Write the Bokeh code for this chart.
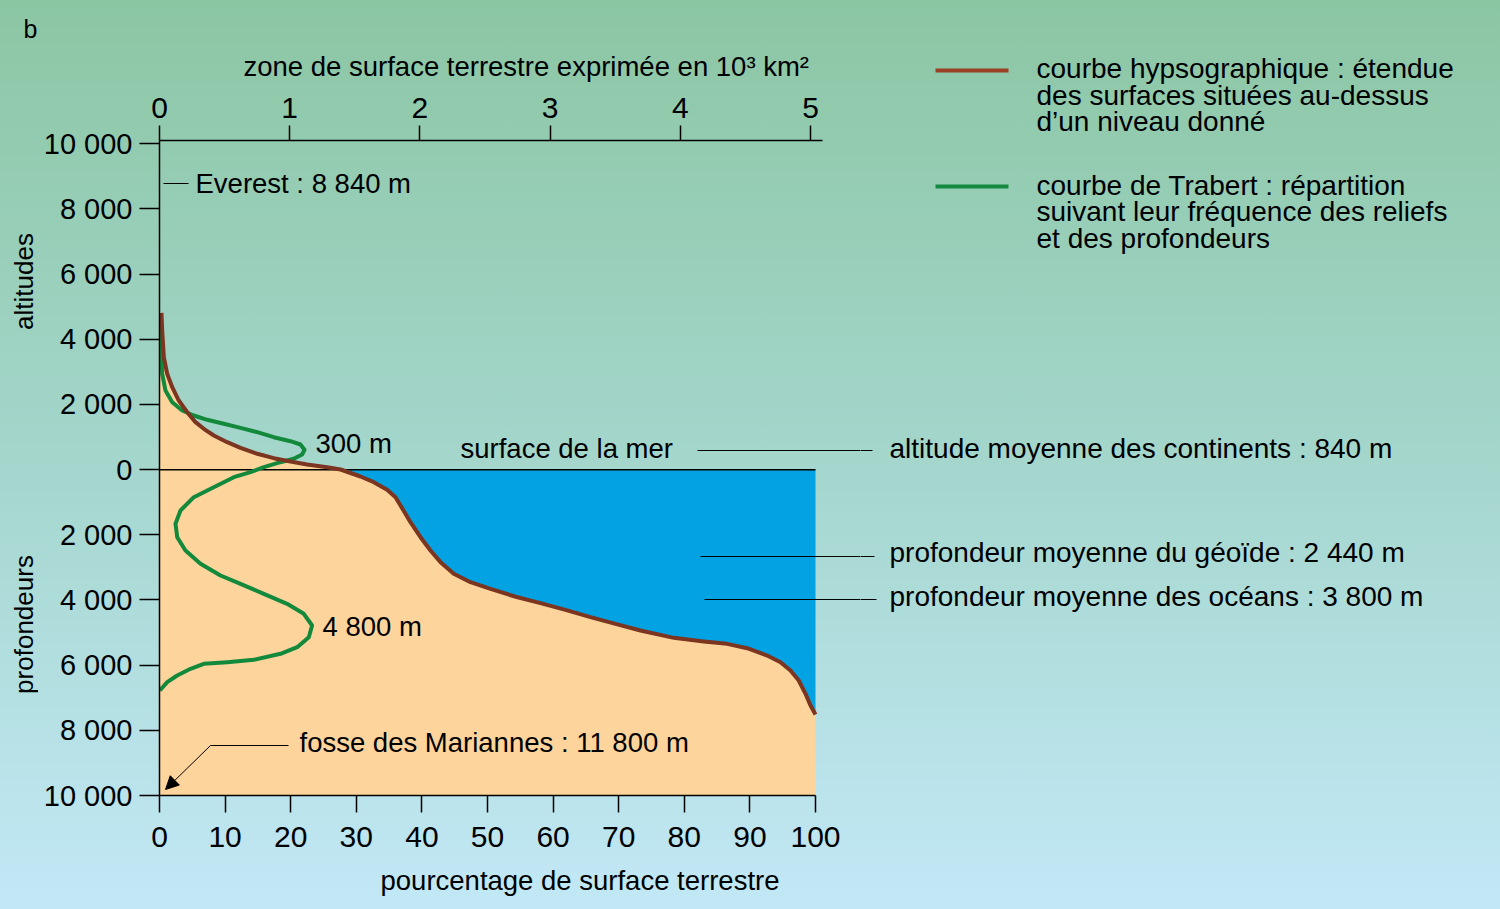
import numpy as np
from bokeh.plotting import figure
from bokeh.layouts import row, column
from bokeh.models import (Range1d, LinearAxis, FixedTicker, Label, Arrow, NormalHead, Title)
from bokeh.embed import file_html
from bokeh.resources import INLINE

# ---------------- data ----------------
# hypsographic curve: % of earth surface vs altitude (m)
hyps_pct = [0.30, 0.41, 0.66, 1.17, 1.94, 2.94, 4.22, 5.49, 6.75, 8.28, 10.32, 12.35, 14.9,
            17.42, 19.97, 22.5, 25.56, 27.6, 30.64, 32.67, 34.7, 35.98, 36.74, 38.26,
            39.79, 41.31, 42.84, 44.86, 47.41, 50.46, 54.3, 58.08, 61.89, 65.7, 69.51, 73.32,
            78.4, 82.97, 86.54, 89.59, 92.64, 94.66, 96.19, 97.45, 98.48, 99.24, 100.0]
hyps_alt = [4812, 4269, 3450, 2941, 2530, 2121, 1762, 1456, 1253, 1047, 842, 670, 486,
            351, 249, 157, 75, 4, -211, -386, -619, -846, -1101, -1613,
            -2073, -2482, -2840, -3197, -3454, -3658, -3900, -4098, -4302, -4527, -4732, -4937,
            -5162, -5274, -5346, -5479, -5704, -5909, -6164, -6471, -6880, -7238, -7514]
# Trabert curve: frequency of reliefs and depths
trab_pct = [0.15, 0.25, 0.41, 0.91, 1.94, 3.46, 5.23, 7.27, 9.8, 12.35, 14.9, 17.42, 19.97,
            21.49, 22.1, 21.74, 20.46, 18.43, 15.9, 13.87, 11.33, 8.8, 5.23, 3.2, 2.44, 2.7,
            3.96, 6.25, 9.3, 12.35, 15.9, 19.45, 22.0, 23.26, 22.76, 20.99, 18.45, 14.38,
            10.32, 6.75, 4.73, 2.7, 1.17, 0.05]
trab_alt = [4475, 3963, 2941, 2428, 2070, 1814, 1661, 1529, 1406, 1283, 1149, 995, 872,
            771, 608, 464, 332, 228, 75, -79, -232, -487, -846, -1254, -1663, -2073,
            -2482, -2890, -3249, -3504, -3811, -4117, -4424, -4783, -5142, -5449, -5652, -5836,
            -5909, -5959, -6112, -6318, -6523, -6778]

y_ticks = [-10000, -8000, -6000, -4000, -2000, 0, 2000, 4000, 6000, 8000, 10000]
y_tick_labels = ["10 000", "8 000", "6 000", "4 000", "2 000", "0",
                 "2 000", "4 000", "6 000", "8 000", "10 000"]
x_ticks = [0, 10, 20, 30, 40, 50, 60, 70, 80, 90, 100]
top_ticks = [0, 1, 2, 3, 4, 5]

# ---------------- layout ----------------
H = 909
LW = 38            # left strip width
MW = 860 - LW      # main figure width
RW = 1500 - 860    # right figure width
FL, FT, FB = 159, 140, 795   # frame edges (window px)
FR = 860
Y0, Y1 = -10000, 10100
PX_PER_PCT = 6.56
X_END = (FR - FL) / PX_PER_PCT
PX_PER_TOP = (810 - FL) / 5.0
TOP_END = (FR - FL) / PX_PER_TOP

def X(px):
    return (px - FL) / PX_PER_PCT

def Y(py):
    return Y0 + (FB - py) / (FB - FT) * (Y1 - Y0)

FONT = "Liberation Sans"
BROWN = "#7b3520"
GREEN = "#13893c"
PEACH = "#fdd49c"
BLUE = "#03a3e3"
GRAD = "linear-gradient(to bottom, #8bc6a3 0%, #a4d6cc 50%, #c2e8f6 100%)"

def style(fig):
    fig.styles = {"background": GRAD}
    fig.border_fill_color = None
    fig.background_fill_color = None
    fig.outline_line_color = None
    if "frame_align" in fig.properties():
        fig.frame_align = False

# ---------- main figure ----------
p = figure(width=MW, height=H, output_backend="svg", toolbar_location=None,
           x_range=Range1d(0, X_END), y_range=Range1d(Y0, Y1),
           min_border_left=FL - LW, min_border_right=0,
           min_border_top=FT, min_border_bottom=H - FB)
style(p)
p.grid.visible = False

px_arr = np.array(hyps_pct)
py_arr = np.array(hyps_alt)
p.patch(list(px_arr) + [100, 0, 0], list(py_arr) + [Y0, Y0, hyps_alt[0]],
        fill_color=PEACH, line_color=None)
i = int(np.argmax(py_arr < 0))
x_cross = px_arr[i - 1] + (0 - py_arr[i - 1]) * (px_arr[i] - px_arr[i - 1]) / (py_arr[i] - py_arr[i - 1])
p.patch([x_cross] + list(px_arr[i:]) + [100], [0] + list(py_arr[i:]) + [0],
        fill_color=BLUE, line_color=None)

p.line([0, 100], [0, 0], line_color="black", line_width=1.5)
p.line(trab_pct, trab_alt, line_color=GREEN, line_width=4, line_join="round")
p.line(hyps_pct, hyps_alt, line_color=BROWN, line_width=4, line_join="round")

def style_axis(a, tick_out, standoff, size="30px"):
    a.major_tick_out = tick_out
    a.major_tick_in = 0
    a.minor_tick_out = 0
    a.minor_tick_in = 0
    a.major_label_standoff = standoff
    a.major_label_text_font = FONT
    a.major_label_text_font_size = size
    a.major_label_text_color = "black"
    a.axis_line_width = 1.5
    a.major_tick_line_width = 1.5
    a.axis_line_color = "black"
    a.major_tick_line_color = "black"

ax = p.xaxis[0]
ax.ticker = FixedTicker(ticks=x_ticks)
ax.bounds = (0, 100)
style_axis(ax, 17, 14)

ay = p.yaxis[0]
ay.ticker = FixedTicker(ticks=y_ticks)
ay.major_label_overrides = {t: l for t, l in zip(y_ticks, y_tick_labels)}
style_axis(ay, 20, 7, "29px")

p.extra_x_ranges = {"top": Range1d(0, TOP_END)}
at = LinearAxis(x_range_name="top", ticker=FixedTicker(ticks=top_ticks), bounds=(0, 5.09))
style_axis(at, 15, 8)
p.add_layout(at, "above")

p.title.text = "zone de surface terrestre exprimée en 10\u00b3 km\u00b2"
p.title.align = "left"
p.title.offset = 243 - FL
p.title.text_font = FONT
p.title.text_font_size = "27.5px"
p.title.text_font_style = "normal"
p.title.text_color = "black"
p.title.standoff = 26

p.add_layout(Title(text="pourcentage de surface terrestre", align="left", offset=380 - FL,
                   text_font=FONT, text_font_size="27.5px", text_font_style="normal",
                   text_color="black", standoff=27), "below")

def mlab(px, py, text):
    p.add_layout(Label(x=X(px), y=Y(py), text=text, text_font=FONT, text_font_size="27.5px",
                       text_align="left", text_baseline="middle", text_color="black"))

def mseg(x0, y0, x1, y1):
    p.line([X(x0), X(x1)], [Y(y0), Y(y1)], line_color="black", line_width=1)

mseg(163, 183, 188, 183)
mlab(195, 183, "Everest : 8 840 m")
mlab(315, 443, "300 m")
mlab(460, 448, "surface de la mer")
mseg(697, 450, 872, 450)
mseg(700, 556, 874, 556)
mseg(704, 599, 876, 599)
mlab(322, 626, "4 800 m")
mlab(299, 742, "fosse des Mariannes : 11 800 m")
mseg(210, 745, 288, 745)
p.add_layout(Arrow(end=NormalHead(size=13, fill_color="black", line_color="black"),
                   x_start=X(210), y_start=Y(745), x_end=X(165), y_end=Y(789),
                   line_color="black", line_width=1))

# ---------- strips (coordinates = window pixels, y measured from the top) ----------
def strip(x0, w):
    f = figure(width=w, height=H, output_backend="svg", toolbar_location=None,
               x_range=Range1d(x0, x0 + w), y_range=Range1d(0, H),
               x_axis_type=None, y_axis_type=None, min_border=0)
    style(f)
    f.grid.visible = False
    return f

lf = strip(0, LW)
lf.add_layout(Label(x=30, y=H - 28, text="b", text_font=FONT, text_font_size="25px",
                    text_align="center", text_baseline="middle", text_color="black"))
for txt, yc in [("altitudes", 281), ("profondeurs", 624)]:
    lf.add_layout(Label(x=23, y=H - yc, text=txt, text_font=FONT, text_font_size="26px",
                        text_align="center", text_baseline="middle", angle=np.pi / 2,
                        text_color="black"))

rf = strip(860, RW)

def rlab(px, py, text):
    rf.add_layout(Label(x=px, y=H - py, text=text, text_font=FONT, text_font_size="28px",
                        text_align="left", text_baseline="middle", text_color="black"))

def rseg(x0, y0, x1, y1, color="black", width=1):
    rf.line([x0, x1], [H - y0, H - y1], line_color=color, line_width=width)

rseg(850, 450, 872, 450)
rlab(889, 448, "altitude moyenne des continents : 840 m")
rseg(850, 556, 874, 556)
rlab(889, 552, "profondeur moyenne du géoïde : 2 440 m")
rseg(850, 599, 876, 599)
rlab(889, 596, "profondeur moyenne des océans : 3 800 m")

rseg(935, 70, 1008, 70, color="#9a4027", width=4)
rlab(1036, 68, "courbe hypsographique : étendue")
rlab(1036, 95, "des surfaces situées au-dessus")
rlab(1036, 121, "d\u2019un niveau donné")
rseg(935, 186, 1008, 186, color="#138a40", width=4)
rlab(1036, 185, "courbe de Trabert : répartition")
rlab(1036, 211, "suivant leur fréquence des reliefs")
rlab(1036, 238, "et des profondeurs")

layout = row(column(lf), p, column(rf), spacing=0)
open("out.html", "w").write(file_html(layout, INLINE))
